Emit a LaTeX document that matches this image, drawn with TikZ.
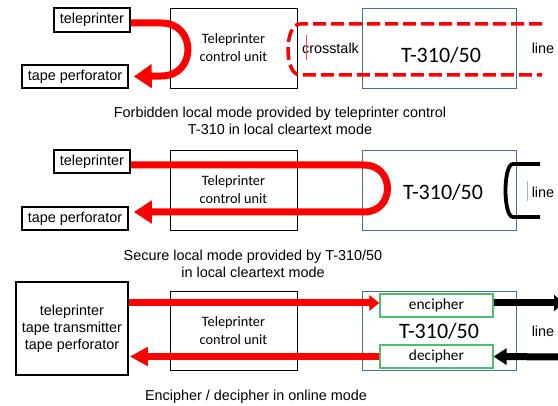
\documentclass[tikz,border=0pt]{standalone}
\usepackage{fontspec}
\setmainfont{Liberation Sans}
\newfontfamily\calfont{Carlito}
\usetikzlibrary{arrows.meta}
\definecolor{tblue}{RGB}{65,113,156}
\definecolor{tgreen}{RGB}{76,190,110}
\definecolor{tred}{RGB}{255,0,0}
\begin{document}
\begin{tikzpicture}[x=1pt,y=-1pt,
  lbl/.style={draw,line width=1.6pt,inner sep=0pt,font=\fontsize{14.4}{17}\selectfont},
  cu/.style={draw,line width=0.8pt,inner sep=0pt,minimum width=127pt,minimum height=80pt,align=center,font=\calfont\fontsize{14.3}{18}\selectfont},
  tbox/.style={draw=tblue,line width=0.9pt,inner sep=0pt,minimum width=154pt,minimum height=80pt},
  gbox/.style={draw=tgreen,line width=1.2pt,inner sep=0pt,minimum width=113pt,minimum height=23pt},
  gtxt/.style={inner sep=0pt,align=center,font=\calfont\fontsize{15.4}{18}\selectfont},
  txt/.style={inner sep=0pt,align=center,font=\fontsize{14.4}{17}\selectfont},
  bigtxt/.style={inner sep=0pt,font=\calfont\fontsize{22}{24}\selectfont},
  redline/.style={draw=tred,line width=7pt},
  blackline/.style={draw=black,line width=7pt},
  tick/.style={line width=0.6pt}
]
\useasboundingbox (0,0) rectangle (558,406);
\clip (0,0) rectangle (558,406);

% ---------- panel 1 ----------
\node[lbl,minimum width=76pt,minimum height=24pt] (tp1) at (92,20) {teleprinter};
\node[lbl,minimum width=106pt,minimum height=23pt] (tpf1) at (75,76.5) {tape perforator};
\node[cu] (cu1) at (233.5,48) {Teleprinter\\control unit};
\node[tbox] (t1) at (439,48) {};
\node[bigtxt] (t1l) at (441,55) {T-310/50};
\node[txt] (ct1) at (330.5,48) {crosstalk};
\node[txt] (ln1) at (543,48) {line};
\draw[tick,draw=tred!70] (306,35) -- (306,60);
\draw[redline,-{Triangle[length=18pt,width=23pt]}] ([yshift=-3pt]tp1.east) -- (161.5,23)
  .. controls (196.8,23) and (196.8,76) .. (161.5,76) -- ([xshift=5pt]tpf1.east);
\draw[draw=tred,line width=3.5pt,dash pattern=on 13pt off 5pt]
  (542,24) -- (300,24) .. controls (284,24) and (284,75) .. (300,75) -- (542,75);
\node[txt] (cap1) at (280,120.5) {Forbidden local mode provided by teleprinter control\\T-310 in local cleartext mode};

% ---------- panel 2 ----------
\node[lbl,minimum width=76pt,minimum height=23pt] (tp2) at (92,161.5) {teleprinter};
\node[lbl,minimum width=106pt,minimum height=23pt] (tpf2) at (75,218.5) {tape perforator};
\node[cu] (cu2) at (233.5,190) {Teleprinter\\control unit};
\node[tbox] (t2) at (439,190) {};
\node[bigtxt] (t2l) at (443,192) {T-310/50};
\node[txt] (ln2) at (543,192) {line};
\draw[tick,draw=black!30] (527,181) -- (527,201);
\draw[redline,-{Triangle[length=18pt,width=22pt]}] ([yshift=-3.5pt]tp2.east) -- (364,165)
  .. controls (395.3,165) and (395.3,212) .. (364,212) -- ([xshift=5pt,yshift=6.5pt]tpf2.east);
\draw[line width=3.8pt] (540,164) -- (513,164) .. controls (503,164) and (503,217) .. (513,217) -- (540,217);
\node[txt] (cap2) at (253,263.5) {Secure local mode provided by T-310/50\\in local cleartext mode};

% ---------- panel 3 ----------
\node[lbl,minimum width=112pt,minimum height=93pt,align=center] (big) at (72,328.5) {teleprinter\\tape transmitter\\tape perforator};
\node[cu,minimum height=79pt] (cu3) at (233.5,330.5) {Teleprinter\\control unit};
\node[tbox,minimum height=79pt] (t3) at (439,330.5) {};
\node[bigtxt] (t3l) at (439,331) {T-310/50};
\node[gbox] (enc) at (436.5,305.5) {};
\node[gtxt] (enct) at (enc.center) {encipher};
\node[gbox] (dec) at (436.5,356.5) {};
\node[gtxt] (dect) at (dec.center) {decipher};
\node[txt] (ln3) at (543,331) {line};
\coordinate (r1) at (564,303);
\coordinate (r2) at (560,357);
\draw[redline,-{Triangle[length=10pt,width=15pt]}] (big.east |- 0,303) -- ([yshift=2.5pt]enc.west);
\draw[redline,-{Triangle[length=18pt,width=18pt]}] (dec.west) -- ([xshift=1pt]big.east |- dec.west);
\draw[blackline,-{Triangle[length=10pt,width=16pt]}] ([yshift=2.5pt]enc.east) -- (r1);
\draw[blackline,-{Triangle[length=13pt,width=16pt]}] (r2) -- (dec.east);
\node[txt] (cap3) at (256,397) {Encipher / decipher in online mode};
\end{tikzpicture}
\end{document}
